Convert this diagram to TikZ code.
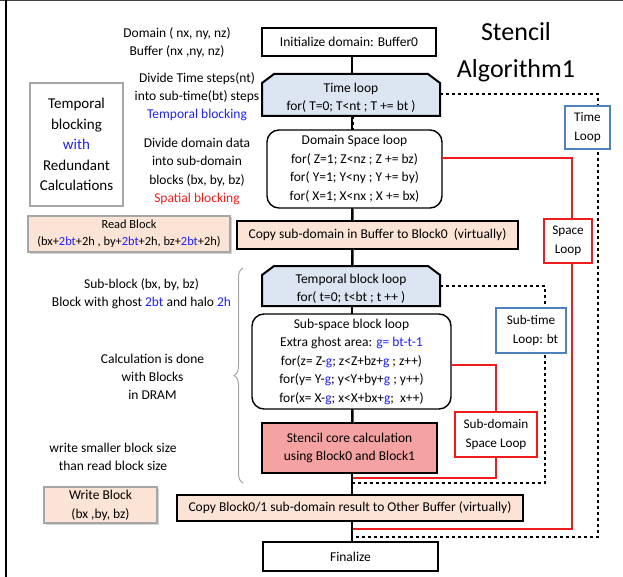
\documentclass[tikz,border=0pt]{standalone}
\usepackage{fontspec}
\setmainfont{Carlito}
\usetikzlibrary{calc,shadows,backgrounds,decorations.pathreplacing}
\definecolor{tlblue}{HTML}{DCE6F2}
\definecolor{peach}{HTML}{FBE4D5}
\definecolor{coral}{HTML}{F4A2A2}
\definecolor{loopblue}{HTML}{4F81BD}
\definecolor{txtblue}{HTML}{1F1FFF}
\definecolor{txtred}{HTML}{FF1A1A}
\definecolor{loopred}{HTML}{EE1C1C}
\definecolor{sidegray}{HTML}{A6A6A6}
\newcommand{\bl}[1]{{\color{txtblue}#1}}
\begin{document}
\begin{tikzpicture}[x=1pt,y=-1pt,
  every node/.style={inner sep=0pt, outer sep=0pt},
  boxfont/.style={font=\fontsize{13.5}{18.5}\selectfont},
  note/.style={align=center, font=\fontsize{13.5}{18.2}\selectfont},
  mainbox/.style={draw=black, line width=2pt, align=center, boxfont},
  roundbox/.style={draw=black, line width=1.4pt, fill=white, rounded corners=12pt, align=center, boxfont},
  chframe/.style={},
  chtext/.style={align=center, boxfont},
  sidebox/.style={draw=sidegray, line width=1.2pt, fill=peach, align=center,
    drop shadow={opacity=0.35, shadow xshift=1.5pt, shadow yshift=-1.5pt}},
  tagblue/.style={draw=loopblue, line width=1.6pt, fill=white, align=center,
    font=\fontsize{13.2}{18.5}\selectfont},
  tagred/.style={draw=loopred, line width=2pt, fill=white, align=center,
    font=\fontsize{13.2}{18.5}\selectfont},
  conn/.style={line width=2pt, black},
  timeret/.style={dashed, line width=1.2pt, black},
  spaceret/.style={line width=1.2pt, loopred},
]
% page and frame
\useasboundingbox (0,0) rectangle (623,577);
\draw[line width=1.5pt, black!75] (0,0.75) -- (623,0.75);
\draw[line width=2pt, black] (6,0) -- (6,577);

% title
\node[font=\fontsize{26}{37}\selectfont, align=center] (title) at (516,52) {Stencil\\Algorithm1};

% main flow
\coordinate (spine) at (352,0);
\node[mainbox, fill=white, minimum width=174pt, minimum height=28pt] (init) at (349,42) {Initialize domain: Buffer0};
\node[chframe, minimum width=178pt, minimum height=42pt] (tloop) at (351,95) {};
\node[chtext] (tlooptxt) at ([yshift=-3pt]tloop.center) {Time loop\\for( T=0; T<nt ; T += bt )};
\node[roundbox, minimum width=175pt, minimum height=78pt] (dsl) at (354.5,169)
  {Domain Space loop\\for( Z=1; Z<nz ; Z += bz)\\for( Y=1; Y<ny ; Y += by)\\for( X=1; X<nx ; X += bx)};
\node[mainbox, fill=peach, minimum width=281pt, minimum height=28pt] (copyin) at (377.5,235)
  {Copy sub-domain in Buffer to Block0\ \ (virtually)};
\node[chframe, minimum width=178pt, minimum height=40pt] (tbl) at (351,286) {};
\node[chtext] (tbltxt) at ([yshift=-2.5pt]tbl.center) {Temporal block loop\\for( t=0; t<bt ; t ++ )};
\node[roundbox, minimum width=199pt, minimum height=95pt] (ssl) at (351.5,361.5)
  {Sub-space block loop\\Extra ghost area: \bl{g= bt-t-1}\\
   for(z= Z-\bl{g}; z<Z+bz+\bl{g} ; z++)\\for(y= Y-\bl{g}; y<Y+by+\bl{g} ; y++)\\for(x= X-\bl{g}; x<X+bx+\bl{g};\ \ x++)};
\node[mainbox, fill=coral, minimum width=175pt, minimum height=50pt] (core) at (349.5,448)
  {Stencil core calculation\\using Block0 and Block1};
\node[mainbox, fill=peach, minimum width=346pt, minimum height=26pt] (copyout) at (350,508)
  {Copy Block0/1 sub-domain result to Other Buffer (virtually)};
\node[mainbox, fill=white, minimum width=175pt, minimum height=29pt] (fin) at (350.5,556.5) {Finalize};

% chamfered loop headers
\begin{pgfonlayer}{background}
  \foreach \n in {tloop,tbl}{
    \draw[line width=2pt, fill=tlblue]
      ([yshift=-9pt]\n.north west) -- ([xshift=12pt]\n.north west)
      -- ([xshift=-12pt]\n.north east) -- ([yshift=-9pt]\n.north east)
      -- (\n.south east) -- (\n.south west) -- cycle;
  }
\end{pgfonlayer}

% loop return paths
\draw[timeret] (tloop.east |- 0,94) -- (598,94) -- (598,537) -- (spine |- 0,537);
\draw[spaceret] (dsl.east |- 0,158) -- (572,158) -- (572,529) -- (spine |- 0,529);
\draw[timeret] (tbl.east |- 0,286) -- (545,286) -- (545,483) -- (spine |- 0,483);
\draw[spaceret] (ssl.east |- 0,365) -- (496,365) -- (496,478) -- (spine |- 0,478);
% returns rising along the spine
\draw[timeret, line width=1pt] ([xshift=1.6pt]spine |- tloop.south) -- ([xshift=1.6pt]spine |- dsl.north);
\draw[spaceret, line width=1pt] ([xshift=1.6pt]spine |- dsl.south) -- ([xshift=1.6pt]spine |- copyin.north);
\draw[spaceret, line width=1pt] ([xshift=1.6pt]spine |- copyin.south) -- ([xshift=1.6pt]spine |- tbl.north);
\draw[spaceret, line width=1pt] ([xshift=1.6pt]spine |- ssl.south) -- ([xshift=1.6pt]spine |- core.north);

% connectors
\draw[conn] (spine |- init.south) -- (spine |- tloop.north);
\draw[conn] (spine |- tloop.south) -- (spine |- dsl.north);
\draw[conn] (spine |- dsl.south) -- (spine |- copyin.north);
\draw[conn] (spine |- copyin.south) -- (spine |- tbl.north);
\draw[conn] (spine |- tbl.south) -- (spine |- ssl.north);
\draw[conn] (spine |- ssl.south) -- (spine |- core.north);
\draw[conn] (spine |- core.south) -- (spine |- copyout.north);
\draw[conn] (spine |- copyout.south) -- (spine |- fin.north);

% loop tags
\node[tagblue, minimum width=45pt, minimum height=43pt] (tagtime) at (587.5,127.5) {Time\\Loop};
\node[tagred, minimum width=48pt, minimum height=44pt] (tagspace) at (568,241) {Space\\Loop};
\node[tagblue, minimum width=70pt, minimum height=45pt] (tagsubtime) at (531,330.5) {Sub-time\\\ \ \ Loop: bt};
\node[tagred, minimum width=82pt, minimum height=45pt] (tagsubspace) at (496,434.5) {Sub-domain\\Space Loop};

% left annotations
\node[note] (ndomain) at (177,42.5) {Domain ( nx, ny, nz)\\Buffer (nx ,ny, nz)};
\node[note] (ntime) at (197,96.5) {Divide Time steps(nt)\\into sub-time(bt) steps\\\bl{Temporal blocking}};
\node[note] (nspace) at (197,171.5) {Divide domain data\\into sub-domain\\blocks (bx, by, bz)\\{\color{txtred}Spatial blocking}};
\node[draw=sidegray, line width=1.2pt, fill=white, align=center,
  font=\fontsize{15}{20.5}\selectfont, minimum width=93pt, minimum height=123pt,
  drop shadow={opacity=0.25, shadow xshift=1pt, shadow yshift=-1pt}] (tbr) at (76.5,144.5)
  {Temporal\\blocking\\\bl{with}\\Redundant\\Calculations};
\node[sidebox, font=\fontsize{12.4}{17}\selectfont, minimum width=202pt, minimum height=36pt] (readblk) at (129,234)
  {Read Block\\(bx+\bl{2bt}+2h\ , by+\bl{2bt}+2h, bz+\bl{2bt}+2h)};
\node[note] (nsub) at (141.5,294) {Sub-block (bx, by, bz)\\Block with ghost \bl{2bt} and halo \bl{2h}};
\node[note] (ncalc) at (152.5,377) {Calculation is done\\with Blocks\\in DRAM};
\node[note] (nwrite) at (113,456.5) {write smaller block size\\than read block size};
\node[sidebox, font=\fontsize{13.5}{19}\selectfont, minimum width=113pt, minimum height=36pt] (writeblk) at (100.5,505) {Write Block\\(bx ,by, bz)};

% brace over the block-level loops
\draw[sidegray, line width=1pt, decorate, decoration={brace, amplitude=9pt, aspect=0.5}]
  (243,483) -- (243,268);
\end{tikzpicture}
\end{document}
